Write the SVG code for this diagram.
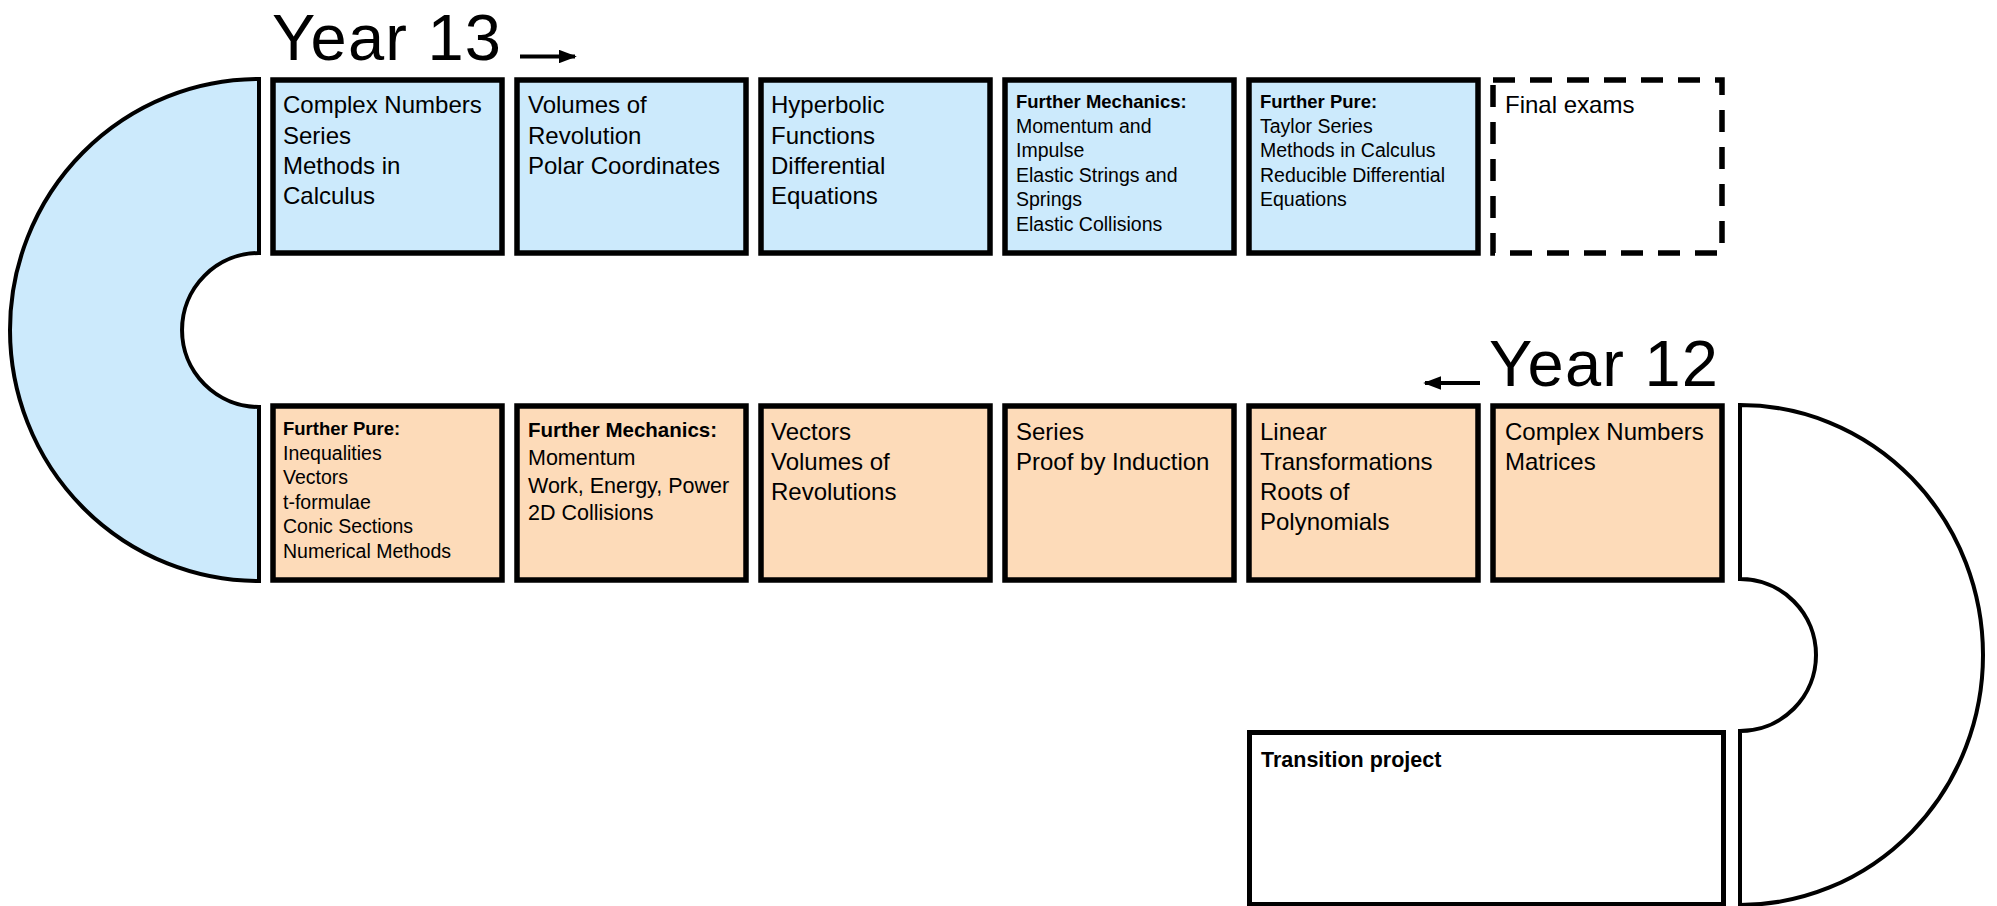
<svg xmlns="http://www.w3.org/2000/svg" width="1997" height="906" viewBox="0 0 1997 906">
<style>
text{font-family:"Liberation Sans",Arial,sans-serif;fill:#000}
.big{font-size:24px}
.sm{font-size:19.5px}
.smb{font-size:18.5px;font-weight:bold}
.title{font-size:65px;letter-spacing:1.2px}
.box{stroke:#000;stroke-width:5.5}
.y13{fill:#CCEAFC}
.y12{fill:#FDDBB9}
.cshape{stroke:#000;stroke-width:4}
</style>
<defs>
<marker id="ah" viewBox="0 0 10 10" refX="9" refY="5" markerWidth="4.5" markerHeight="3.4" orient="auto" markerUnits="strokeWidth" preserveAspectRatio="none">
<path d="M0,0 L10,5 L0,10 Z" fill="#000"/>
</marker>
</defs>
<rect width="1997" height="906" fill="#fff"/>

<g id="curve-left"><path class="cshape" fill="#CCEAFC" d="M259 79 A249 251 0 0 0 259 581 L259 407 A77 77 0 0 1 259 253 Z"/></g>
<g id="curve-right"><path class="cshape" fill="#fff" d="M1740 405 A243 250 0 0 1 1740 905 L1740 731 A76 76 0 0 0 1740 579 Z"/></g>

<g id="labels">
<text class="title" x="272" y="60">Year 13</text>
<text class="title" x="1489" y="386">Year 12</text>
</g>

<g id="connectors">
<line x1="520" y1="56.5" x2="575" y2="56.5" stroke="#000" stroke-width="4" marker-end="url(#ah)"/>
<line x1="1480" y1="383" x2="1425" y2="383" stroke="#000" stroke-width="4" marker-end="url(#ah)"/>
</g>

<!-- Year 13 row -->
<g id="y13-1"><rect class="box y13" x="273" y="80" width="229" height="173"/>
<text class="big" x="283" y="113">Complex Numbers</text><text class="big" x="283" y="144">Series</text><text class="big" x="283" y="174">Methods in</text><text class="big" x="283" y="204">Calculus</text></g>
<g id="y13-2"><rect class="box y13" x="517" y="80" width="229" height="173"/>
<text class="big" x="528" y="113">Volumes of</text><text class="big" x="528" y="144">Revolution</text><text class="big" x="528" y="174">Polar Coordinates</text></g>
<g id="y13-3"><rect class="box y13" x="761" y="80" width="229" height="173"/>
<text class="big" x="771" y="113">Hyperbolic</text><text class="big" x="771" y="144">Functions</text><text class="big" x="771" y="174">Differential</text><text class="big" x="771" y="204">Equations</text></g>
<g id="y13-4"><rect class="box y13" x="1005" y="80" width="229" height="173"/>
<text class="smb" x="1016" y="108">Further Mechanics:</text><text class="sm" x="1016" y="133">Momentum and</text><text class="sm" x="1016" y="157">Impulse</text><text class="sm" x="1016" y="182">Elastic Strings and</text><text class="sm" x="1016" y="206">Springs</text><text class="sm" x="1016" y="231">Elastic Collisions</text></g>
<g id="y13-5"><rect class="box y13" x="1249" y="80" width="229" height="173"/>
<text class="smb" x="1260" y="108">Further Pure:</text><text class="sm" x="1260" y="133">Taylor Series</text><text class="sm" x="1260" y="157">Methods in Calculus</text><text class="sm" x="1260" y="182">Reducible Differential</text><text class="sm" x="1260" y="206">Equations</text></g>
<g id="y13-6"><rect x="1493" y="80" width="229" height="173" fill="#fff" stroke="#000" stroke-width="5.5" stroke-dasharray="22 15"/>
<text class="big" x="1505" y="113">Final exams</text></g>

<!-- Year 12 row -->
<g id="y12-6"><rect class="box y12" x="273" y="406" width="229" height="174"/>
<text class="smb" x="283" y="435">Further Pure:</text><text class="sm" x="283" y="460">Inequalities</text><text class="sm" x="283" y="484">Vectors</text><text class="sm" x="283" y="509">t-formulae</text><text class="sm" x="283" y="533">Conic Sections</text><text class="sm" x="283" y="558">Numerical Methods</text></g>
<g id="y12-5"><rect class="box y12" x="517" y="406" width="229" height="174"/>
<text x="528" y="437" style="font-size:20.5px;font-weight:bold">Further Mechanics:</text><text x="528" y="465" style="font-size:21.5px">Momentum</text><text x="528" y="493" style="font-size:21.5px">Work, Energy, Power</text><text x="528" y="520" style="font-size:21.5px">2D Collisions</text></g>
<g id="y12-4"><rect class="box y12" x="761" y="406" width="229" height="174"/>
<text class="big" x="771" y="440">Vectors</text><text class="big" x="771" y="470">Volumes of</text><text class="big" x="771" y="500">Revolutions</text></g>
<g id="y12-3"><rect class="box y12" x="1005" y="406" width="229" height="174"/>
<text class="big" x="1016" y="440">Series</text><text class="big" x="1016" y="470">Proof by Induction</text></g>
<g id="y12-2"><rect class="box y12" x="1249" y="406" width="229" height="174"/>
<text class="big" x="1260" y="440">Linear</text><text class="big" x="1260" y="470">Transformations</text><text class="big" x="1260" y="500">Roots of</text><text class="big" x="1260" y="530">Polynomials</text></g>
<g id="y12-1"><rect class="box y12" x="1493" y="406" width="229" height="174"/>
<text class="big" x="1505" y="440">Complex Numbers</text><text class="big" x="1505" y="470">Matrices</text></g>

<g id="transition"><rect x="1249.5" y="732.5" width="474" height="172" fill="#fff" stroke="#000" stroke-width="5"/>
<text x="1261" y="767" style="font-size:21.5px;font-weight:bold">Transition project</text></g>
</svg>
